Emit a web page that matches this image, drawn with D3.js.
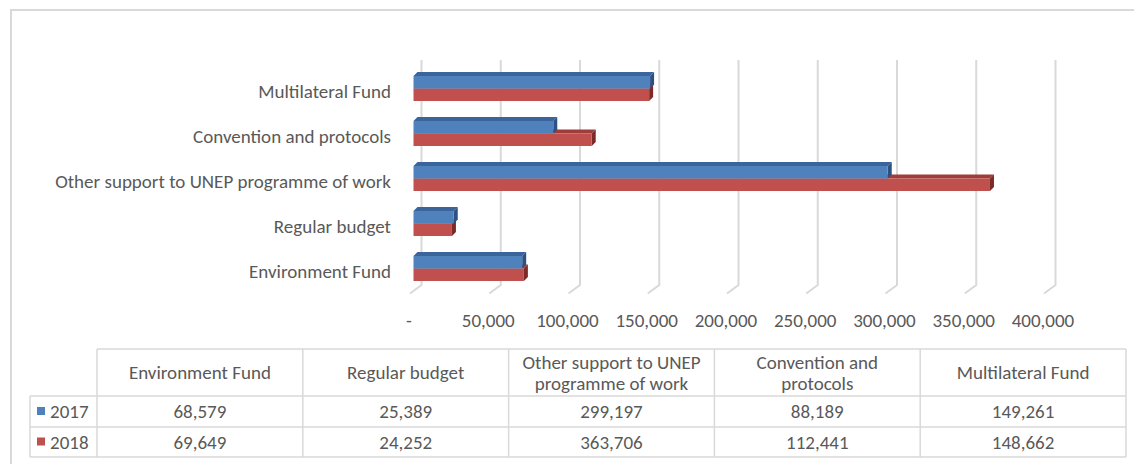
<!DOCTYPE html>
<html>
<head>
<meta charset="utf-8">
<script src="https://cdn.jsdelivr.net/npm/d3@7"></script>
<style>
  body { margin: 0; background: #fff; }
  text { font-family: Carlito, Calibri, "Open Sans", sans-serif; fill: #595959; }
</style>
</head>
<body>
<svg id="chart" width="1134" height="464"></svg>
<script>
// categories in table order (bottom to top in the chart)
var categories = ["Environment Fund", "Regular budget", "Other support to UNEP programme of work", "Convention and protocols", "Multilateral Fund"];
var headerLines = [["Environment Fund"], ["Regular budget"], ["Other support to UNEP", "programme of work"], ["Convention and", "protocols"], ["Multilateral Fund"]];
var years = ["2017", "2018"];
var values2017 = [68579, 25389, 299197, 88189, 149261];
var values2018 = [69649, 24252, 363706, 112441, 148662];
var xTicks = [0, 50000, 100000, 150000, 200000, 250000, 300000, 350000, 400000];

var colors = { "2017": "#4F81BD", "2018": "#C0504D" };
var tops = { "2017": "#3B659A", "2018": "#9E3D3A" };
var sides = { "2017": "#2C5182", "2018": "#7C2B29" };

var fs = "19px";
var svg = d3.select("#chart");
var fmt = d3.format(",");
var tickFmt = function(v) { return v === 0 ? "-" : fmt(v); };

// outer frame
svg.append("path")
    .attr("d", "M11,464 L11,10 L1134,10")
    .attr("fill", "none").attr("stroke", "#d9d9d9").attr("stroke-width", 2);

// front plane scale and the back wall offset
var x = d3.scaleLinear().domain([0, 400000]).range([410, 1044]);
var backDx = 11.5, backDy = -8.5;
var wallTop = 60, floorBack = 285;

var y = d3.scaleBand().domain(categories.slice().reverse()).range([66, 291]);

// gridlines on the back wall with floor ticks
var grid = svg.append("g");
xTicks.forEach(function(t) {
    var bx = x(t) + backDx;
    grid.append("path")
        .attr("d", "M" + bx + "," + wallTop + " L" + bx + "," + floorBack + " L" + x(t) + "," + (floorBack - backDy))
        .attr("fill", "none").attr("stroke", "#d9d9d9").attr("stroke-width", 2);
});

// x tick labels
svg.append("g").selectAll("text")
    .data(xTicks).enter().append("text")
    .attr("x", function(d) { return x(d) - 1; })
    .attr("y", 320)
    .attr("text-anchor", "middle")
    .attr("dominant-baseline", "central")
    .style("font-size", fs)
    .text(tickFmt);

// bars: front face starts a little behind the front plane
var bx0 = x(0) + 3.5;
var barX = function(v) { return bx0 + (x(v) - x(0)); };
var depth = 4, barH = 12.5;

var rows = [];
categories.forEach(function(c, i) {
    rows.push({ cat: c, year: "2018", v: values2018[i] });
    rows.push({ cat: c, year: "2017", v: values2017[i] });
});

var bars = svg.append("g").selectAll("g.bar")
    .data(rows).enter().append("g").attr("class", "bar");

bars.each(function(d) {
    var g = d3.select(this);
    var c = y(d.cat) + y.bandwidth() / 2;
    var y0 = d.year === "2017" ? c - barH : c;
    var x1 = barX(d.v);
    // top face
    g.append("path")
        .attr("d", "M" + bx0 + "," + y0 + " L" + (bx0 + depth) + "," + (y0 - depth) +
                   " L" + (x1 + depth) + "," + (y0 - depth) + " L" + x1 + "," + y0 + "Z")
        .attr("fill", tops[d.year]);
    // side face
    g.append("path")
        .attr("d", "M" + x1 + "," + y0 + " L" + (x1 + depth) + "," + (y0 - depth) +
                   " L" + (x1 + depth) + "," + (y0 + barH - depth) + " L" + x1 + "," + (y0 + barH) + "Z")
        .attr("fill", sides[d.year]);
    // front face
    g.append("rect")
        .attr("x", bx0).attr("y", y0)
        .attr("width", x1 - bx0).attr("height", barH)
        .attr("fill", colors[d.year]);
});

// category labels
svg.append("g").selectAll("text")
    .data(categories).enter().append("text")
    .attr("x", 391)
    .attr("y", function(d) { return y(d) + y.bandwidth() / 2 + 3; })
    .attr("text-anchor", "end")
    .attr("dominant-baseline", "central")
    .style("font-size", fs)
    .text(function(d) { return d; });

// data table
var col = d3.scaleBand().domain(categories).range([97, 1126]);
var tHead = 349, tRow1 = 396, tRow2 = 427, tBot = 457, tLeft = 30;
var lineC = "#d9d9d9";
var tbl = svg.append("g").attr("stroke", lineC).attr("stroke-width", 1.5).attr("fill", "none");
tbl.append("path").attr("d", "M97," + tHead + " L1126," + tHead);
tbl.append("path").attr("d", "M" + tLeft + "," + tRow1 + " L1126," + tRow1);
tbl.append("path").attr("d", "M" + tLeft + "," + tRow2 + " L1126," + tRow2);
tbl.append("path").attr("d", "M" + tLeft + "," + tBot + " L1126," + tBot);
tbl.append("path").attr("d", "M" + tLeft + "," + tRow1 + " L" + tLeft + "," + tBot);
categories.forEach(function(c) {
    tbl.append("path").attr("d", "M" + col(c) + "," + tHead + " L" + col(c) + "," + tBot);
});
tbl.append("path").attr("d", "M1126," + tHead + " L1126," + tBot);

// header texts
categories.forEach(function(c, i) {
    var lines = headerLines[i];
    var cy = (tHead + tRow1) / 2;
    lines.forEach(function(l, j) {
        svg.append("text")
            .attr("x", col(c) + col.bandwidth() / 2)
            .attr("y", cy + (j - (lines.length - 1) / 2) * 21)
            .attr("text-anchor", "middle")
            .attr("dominant-baseline", "central")
            .style("font-size", fs)
            .text(l);
    });
});

// value rows
var series = [values2017, values2018];
years.forEach(function(yr, r) {
    var cy = r === 0 ? (tRow1 + tRow2) / 2 : (tRow2 + tBot) / 2;
    svg.append("rect")
        .attr("x", 37).attr("y", cy - 4.5).attr("width", 8).attr("height", 8)
        .attr("fill", colors[yr]);
    svg.append("text")
        .attr("x", 50).attr("y", cy)
        .attr("dominant-baseline", "central")
        .style("font-size", fs)
        .text(yr);
    categories.forEach(function(c, i) {
        svg.append("text")
            .attr("x", col(c) + col.bandwidth() / 2)
            .attr("y", cy)
            .attr("text-anchor", "middle")
            .attr("dominant-baseline", "central")
            .style("font-size", fs)
            .text(fmt(series[r][i]));
    });
});
</script>
</body>
</html>
